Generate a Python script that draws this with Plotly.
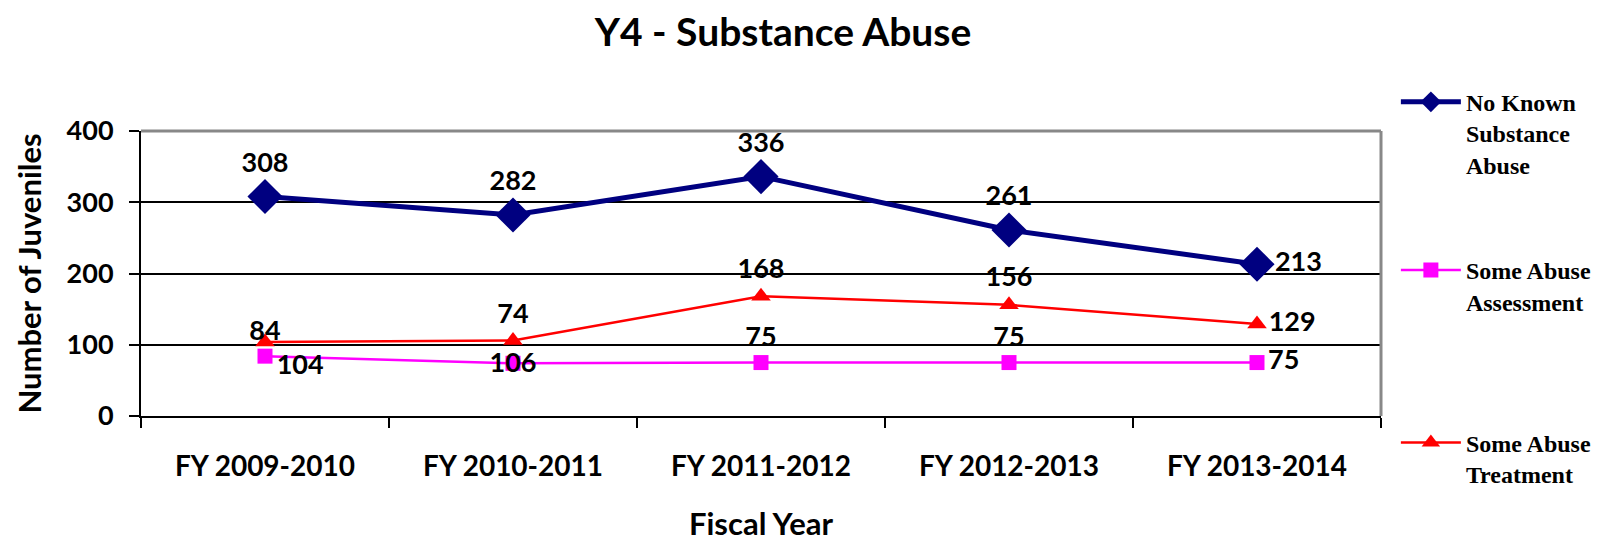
import plotly.graph_objects as go

categories = ["FY 2009-2010", "FY 2010-2011", "FY 2011-2012", "FY 2012-2013", "FY 2013-2014"]
no_known = [308, 282, 336, 261, 213]
assessment = [84, 74, 75, 75, 75]
treatment = [104, 106, 168, 156, 129]

FONT = "Lato"
lab_font = dict(family=FONT, size=27, color="black", weight="bold")

fig = go.Figure()
fig.add_trace(go.Scatter(
    x=categories, y=no_known, name="No Known<br>Substance<br>Abuse",
    mode="lines+markers+text", text=[str(v) for v in no_known],
    textposition=["top center"] * 4 + ["middle right"],
    textfont=lab_font,
    line=dict(color="#000080", width=5),
    marker=dict(symbol="diamond", size=27, color="#000080"),
    legend="legend", cliponaxis=False,
))
fig.add_trace(go.Scatter(
    x=categories, y=assessment, name="Some Abuse<br>Assessment",
    mode="lines+markers",
    line=dict(color="#FF00FF", width=2.5),
    marker=dict(symbol="square", size=15, color="#FF00FF"),
    legend="legend2", cliponaxis=False,
))
fig.add_trace(go.Scatter(
    x=categories, y=treatment, name="Some Abuse<br>Treatment",
    mode="lines+markers+text", text=[str(v) for v in treatment],
    textposition=["bottom right", "bottom center", "top center", "top center", "middle right"],
    textfont=lab_font,
    line=dict(color="#FF0000", width=2.5),
    marker=dict(symbol="triangle-up", size=17, color="#FF0000"),
    legend="legend3", cliponaxis=False,
))
# data labels for the assessment series (drawn on top, spaced like the original)
fig.add_trace(go.Scatter(
    x=categories, y=assessment, mode="markers+text",
    text=[str(v) for v in assessment],
    textposition=["top center"] * 4 + ["middle right"],
    textfont=lab_font,
    marker=dict(size=[14, 52, 14, 14, 16], opacity=0),
    showlegend=False, hoverinfo="skip", cliponaxis=False,
))

leg_common = dict(
    font=dict(family="Liberation Serif", size=24, color="black", weight="bold"),
    xanchor="left", yanchor="top", valign="top", bgcolor="rgba(0,0,0,0)",
    borderwidth=0, itemwidth=60,
)
fig.update_layout(
    width=1602, height=540,
    margin=dict(l=133, r=229, t=123, b=123),
    paper_bgcolor="white", plot_bgcolor="white",
    title=dict(text="Y4 - Substance Abuse", x=775 / 1602, xref="container", xanchor="center",
               y=1 - 24 / 540, yref="container", yanchor="middle",
               font=dict(family=FONT, size=39, color="black", weight="bold")),
    showlegend=True,
    legend=dict(x=1.012, y=1.18, **leg_common),
    legend2=dict(x=1.012, y=0.59, **leg_common),
    legend3=dict(x=1.012, y=-0.015, **leg_common),
    xaxis=dict(
        type="category", range=[-0.5, 4.5], tickson="boundaries", ticks="outside", ticklen=10,
        tickwidth=2, tickcolor="black", showline=True, linecolor="black", linewidth=2,
        showgrid=False, ticklabelstandoff=24,
        tickfont=dict(family=FONT, size=28, color="black", weight="bold"),
        title=dict(text="Fiscal Year", standoff=33,
                   font=dict(family=FONT, size=31, color="black", weight="bold")),
    ),
    yaxis=dict(
        range=[0, 400], tickvals=[0, 100, 200, 300, 400], ticks="outside", ticklen=10,
        tickwidth=2, tickcolor="black", showline=True, linecolor="black", linewidth=2,
        showgrid=True, gridcolor="black", gridwidth=2, zeroline=False,
        ticklabelstandoff=10,
        tickfont=dict(family=FONT, size=27, color="black", weight="bold"),
        title=dict(text="Number of Juveniles", standoff=16,
                   font=dict(family=FONT, size=31, color="black", weight="bold")),
    ),
    shapes=[
        dict(type="line", xref="paper", yref="paper", x0=0, x1=1, y0=1, y1=1,
             line=dict(color="#888888", width=3), layer="above"),
        dict(type="line", xref="paper", yref="paper", x0=1, x1=1, y0=0, y1=1,
             line=dict(color="#888888", width=3), layer="above"),
    ],
)

fig.write_html("out.html")
